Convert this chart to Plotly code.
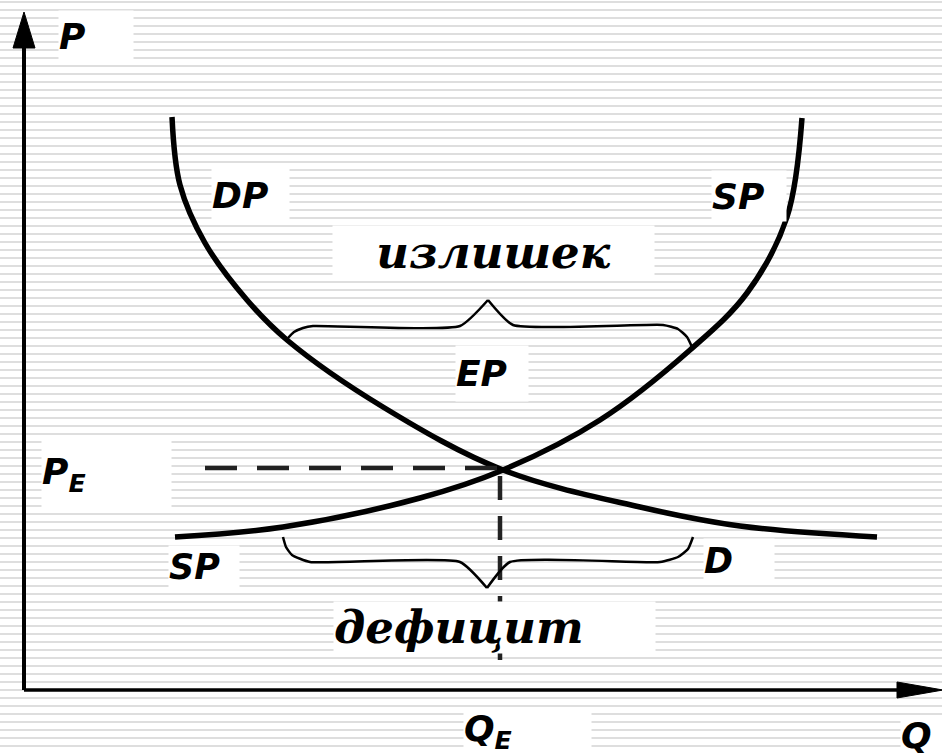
import plotly.graph_objects as go

# canvas is mapped 1:1 to pixels: x to the right, y downward
W, H = 942, 754

# demand curve D (pixel points)
demand_x = [172, 180, 205, 247, 287, 383, 503, 640, 740, 877]
demand_y = [117, 185, 243, 300, 340, 407, 470, 507, 526, 537]

# supply curve S
supply_x = [175, 283, 420, 503, 600, 690, 747, 787, 802]
supply_y = [537, 527, 498, 470, 420, 350, 293, 217, 118]

# equilibrium guides
pe_line_x = [205, 500]
pe_line_y = [468, 468]
qe_line_x = [500, 500]
qe_line_y = [476, 672]

# braces, split at the tip: surplus (above the curves) and deficit (below)
surplus_left_x = [288, 294, 303, 313, 460, 488]
surplus_left_y = [338, 332, 328, 326, 326, 300]
surplus_right_x = [488, 513, 663, 678, 687, 692]
surplus_right_y = [300, 325, 325, 329, 337, 347]
deficit_left_x = [283, 286, 292, 310, 460, 487]
deficit_left_y = [537, 547, 555, 562, 562, 588]
deficit_right_x = [487, 510, 660, 678, 688, 693]
deficit_right_y = [588, 562, 562, 557, 549, 537]

# axes: origin and arrow tips
origin = (24, 690)
y_tip = (24, 12)
x_tip = (943, 690)

# labels: text, box left, box top, box width, box height, font, size, align
LAT = "DejaVu Sans"
CYR = "DejaVu Serif"
labels = [
    ("P", 58, 10, 74, 50, LAT, 36, "left"),
    ("DP", 211, 168, 77, 52, LAT, 36, "left"),
    ("SP", 711, 170, 74, 50, LAT, 36, "left"),
    ("излишек", 332, 225, 321, 53, CYR, 45, "center"),
    ("EP", 455, 345, 72, 55, LAT, 36, "left"),
    ("P<sub>E</sub>", 41, 440, 129, 67, LAT, 36, "left"),
    ("SP", 168, 545, 70, 42, LAT, 35, "left"),
    ("D", 703, 538, 70, 44, LAT, 35, "left"),
    ("дефицит", 333, 601, 321, 51, CYR, 45, "left"),
    ("Q<sub>E</sub>", 463, 707, 127, 47, LAT, 36, "left"),
    ("Q", 900, 715, 42, 39, LAT, 36, "left"),
]

fig = go.Figure()


def add_line(xs, ys, width, color="black", dash=None, shape="linear", smoothing=1.0):
    fig.add_trace(go.Scatter(x=xs, y=ys, mode="lines", hoverinfo="skip",
                             line=dict(color=color, width=width, dash=dash,
                                       shape=shape, smoothing=smoothing)))


# axes with filled arrow heads
add_line([origin[0], y_tip[0]], [origin[1], y_tip[1] + 30], 4)
add_line([origin[0], x_tip[0] - 40], [origin[1], x_tip[1]], 3.5)
fig.add_trace(go.Scatter(x=[y_tip[0], y_tip[0] - 11, y_tip[0] + 11, y_tip[0]],
                         y=[y_tip[1], y_tip[1] + 36, y_tip[1] + 36, y_tip[1]],
                         mode="lines", fill="toself", fillcolor="black",
                         line=dict(color="black", width=1), hoverinfo="skip"))
fig.add_trace(go.Scatter(x=[x_tip[0], x_tip[0] - 46, x_tip[0] - 46, x_tip[0]],
                         y=[x_tip[1], x_tip[1] - 8, x_tip[1] + 8, x_tip[1]],
                         mode="lines", fill="toself", fillcolor="black",
                         line=dict(color="black", width=1), hoverinfo="skip"))

add_line(demand_x, demand_y, 5.5, shape="spline", smoothing=1.0)
add_line(supply_x, supply_y, 5.5, shape="spline", smoothing=1.0)
add_line(pe_line_x, pe_line_y, 4.5, color="#222", dash="32px,20px")
add_line(qe_line_x, qe_line_y, 4.5, color="#222", dash="24px,16px")
for bx, by in [(surplus_left_x, surplus_left_y), (surplus_right_x, surplus_right_y),
               (deficit_left_x, deficit_left_y), (deficit_right_x, deficit_right_y)]:
    add_line(bx, by, 2.5, shape="spline", smoothing=0.5)

annotations = []
for text, lx, ty, bw, bh, fam, size, al in labels:
    annotations.append(dict(x=lx, y=ty, xref="x", yref="y",
                            xanchor="left", yanchor="top",
                            width=bw, height=bh, borderpad=0,
                            align=al, valign="middle",
                            bgcolor="white", showarrow=False,
                            text=f"<b><i>{text}</i></b>",
                            font=dict(family=fam, size=size, color="black")))

fig.update_layout(
    width=W, height=H,
    margin=dict(l=0, r=0, t=0, b=0, pad=0),
    paper_bgcolor="white", plot_bgcolor="white",
    showlegend=False,
    annotations=annotations,
    xaxis=dict(range=[0, W], showgrid=False, zeroline=False,
               showticklabels=False, ticks="", fixedrange=True),
    yaxis=dict(range=[H, 0], showgrid=True, gridcolor="#dedede", gridwidth=2,
               tick0=2, dtick=8, zeroline=False, showticklabels=False,
               ticks="", fixedrange=True),
)

fig.write_html("out.html", config={"displayModeBar": False},
               post_script="document.body.style.margin='0px';")
